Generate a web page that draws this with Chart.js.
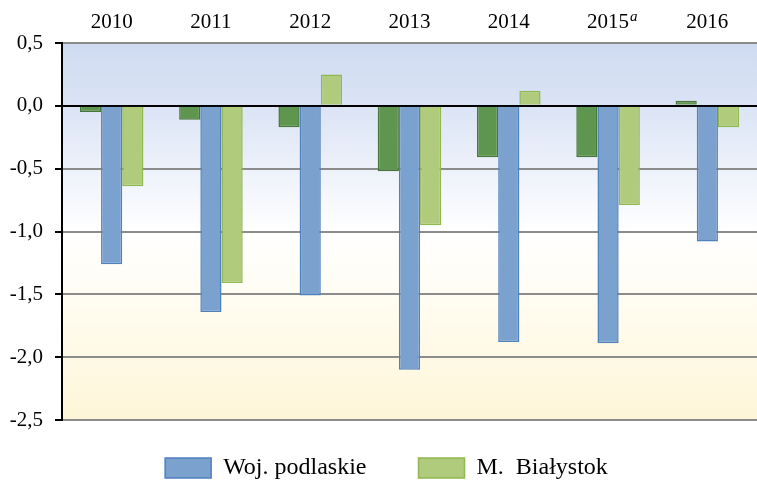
<!DOCTYPE html>
<html>
<head>
<meta charset="utf-8">
<script src="https://cdn.jsdelivr.net/npm/chart.js@4"></script>
<style>
  html, body { margin: 0; padding: 0; background: #fff; }
  #wrap { width: 757px; height: 481px; }
</style>
</head>
<body>
<div id="wrap"><canvas id="chart" width="757" height="481"></canvas></div>
<script>
const years = ["2010", "2011", "2012", "2013", "2014", "2015", "2016"];
const totalSeries = [-0.05, -0.11, -0.17, -0.52, -0.41, -0.41, 0.04];
const podlaskie = [-1.26, -1.64, -1.51, -2.10, -1.88, -1.89, -1.08];
const bialystok = [-0.64, -1.41, 0.25, -0.95, 0.12, -0.79, -0.17];
const yTicks = [0.5, 0.0, -0.5, -1.0, -1.5, -2.0, -2.5];

const serif = "'Liberation Serif', 'Times New Roman', serif";

// plot area background: blue on top fading to pale yellow
const bgPlugin = {
  id: "bg",
  beforeDraw(chart) {
    const { ctx, chartArea: a } = chart;
    const g = ctx.createLinearGradient(0, a.top, 0, a.bottom);
    g.addColorStop(0, "#cfdbf1");
    g.addColorStop(0.17, "#dbe4f5");
    g.addColorStop(0.5, "#ffffff");
    g.addColorStop(0.75, "#fffbec");
    g.addColorStop(1, "#fef6d8");
    ctx.save();
    ctx.fillStyle = g;
    ctx.fillRect(a.left, a.top, a.right - a.left, a.bottom - a.top);
    ctx.restore();
  },
};

// legend: fixed height, wide gap between items
const legendPlugin = {
  id: "legendFix",
  beforeUpdate(chart) {
    const lg = chart.legend;
    if (lg && !lg._patched) {
      const fit = lg.fit;
      lg.fit = function () {
        fit.call(this);
        this.height = 61;
      };
      lg._patched = true;
    }
  },
  afterUpdate(chart) {
    const lg = chart.legend;
    const pad = lg.options.labels.padding;
    lg.top = 456 - pad;
    lg.left += 8;
    lg.right += 8;
  },
};

// superscript italic "a" after 2015
const supPlugin = {
  id: "sup",
  afterDraw(chart) {
    const x = chart.scales.x;
    const ctx = chart.ctx;
    const i = years.indexOf("2015");
    const px = x.getPixelForValue(i);
    ctx.save();
    ctx.font = "21px " + serif;
    const w = ctx.measureText("2015").width;
    ctx.font = "italic 15px " + serif;
    ctx.fillStyle = "#000";
    ctx.textBaseline = "alphabetic";
    ctx.fillText("a", px + w / 2 + 1, 21);
    ctx.restore();
  },
};

new Chart(document.getElementById("chart"), {
  type: "bar",
  data: {
    labels: years,
    datasets: [
      {
        label: "Ogółem",
        data: totalSeries,
        backgroundColor: "#5f964f",
        borderColor: "#46763a",
        borderWidth: 1.5,
      },
      {
        label: "Woj. podlaskie",
        data: podlaskie,
        backgroundColor: "#7ba1cf",
        borderColor: "#4f81bd",
        borderWidth: 1.5,
      },
      {
        label: "M.  Białystok",
        data: bialystok,
        backgroundColor: "#b0cb7c",
        borderColor: "#8fb850",
        borderWidth: 1.5,
      },
    ],
  },
  options: {
    responsive: false,
    animation: false,
    layout: { padding: { left: 0, right: 0, top: 0, bottom: 0 } },
    datasets: { bar: { categoryPercentage: 0.64, barPercentage: 1.0 } },
    plugins: {
      tooltip: { enabled: false },
      legend: {
        position: "bottom",
        labels: {
          filter: (item) => item.datasetIndex > 0,
          boxWidth: 46,
          boxHeight: 20,
          padding: 52,
          color: "#000",
          font: { family: serif, size: 24 },
        },
      },
    },
    scales: {
      x: {
        position: "top",
        grid: { display: false },
        border: { display: true, color: "#8c8c8c", width: 2 },
        ticks: {
          color: "#000",
          font: { family: serif, size: 21 },
          padding: 0,
        },
        afterFit(scale) {
          scale.height = 43;
        },
      },
      y: {
        min: -2.5,
        max: 0.5,
        afterBuildTicks(scale) {
          scale.ticks = yTicks.map((v) => ({ value: v }));
        },
        grid: {
          color: (c) => (c.tick && c.tick.value === 0 ? "#000" : "#8c8c8c"),
          lineWidth: 2,
          tickColor: "#000",
          tickLength: 7,
        },
        border: { color: "#000", width: 2 },
        ticks: {
          color: "#000",
          padding: 12,
          font: { family: serif, size: 21 },
          callback: (v) => v.toFixed(1).replace(".", ","),
        },
        afterFit(scale) {
          scale.width = 62;
        },
      },
    },
  },
  plugins: [bgPlugin, legendPlugin, supPlugin],
});
</script>
</body>
</html>
